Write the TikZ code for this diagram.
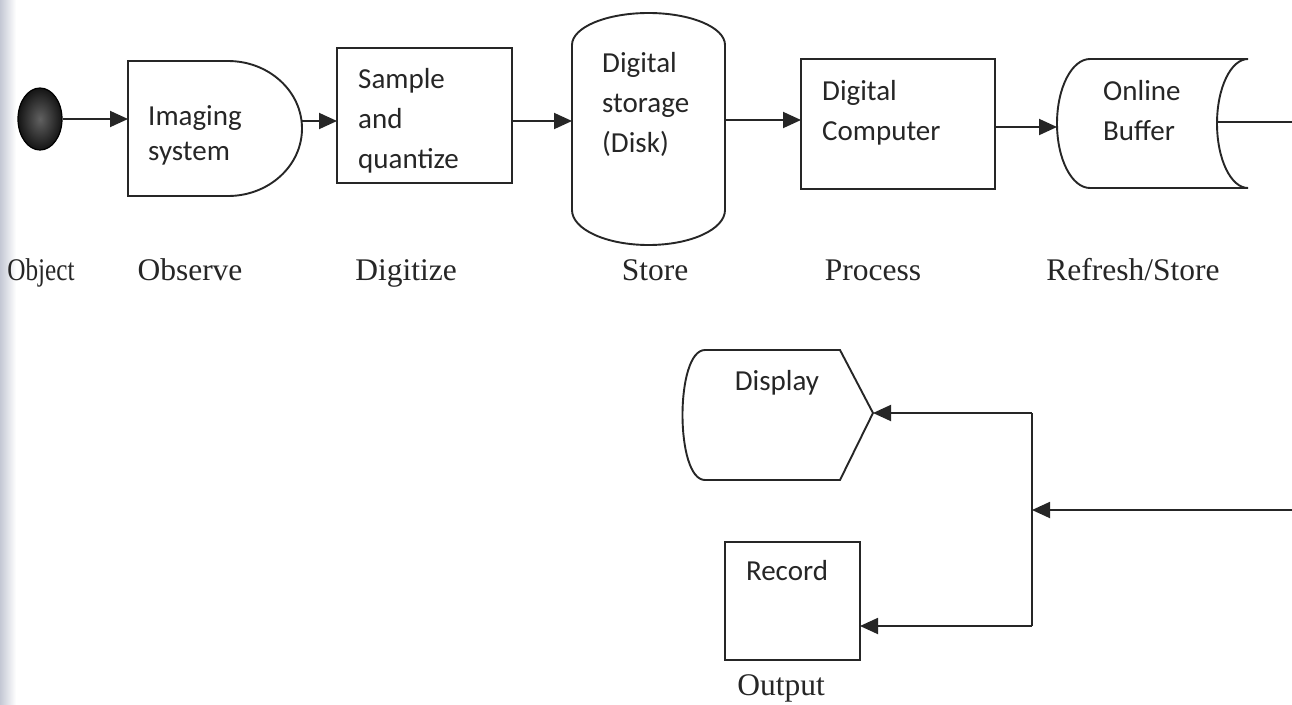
\documentclass[tikz,border=0pt]{standalone}
\usepackage{fontspec}
\setmainfont{Liberation Serif}
\newfontfamily\boxfont{Carlito}
\usetikzlibrary{arrows.meta,shapes.geometric}
\definecolor{ink}{HTML}{262626}
\definecolor{scan}{HTML}{C4C8D4}
\begin{document}
\begin{tikzpicture}[x=1pt,y=-1pt,
  line/.style={draw=ink, line width=1.9pt},
  arr/.style={line, -{Triangle[length=18pt,width=16pt]}},
  btxt/.style={font=\boxfont\fontsize{29}{29}\selectfont, text=ink, anchor=base west, inner sep=0pt},
  ctxt/.style={font=\boxfont\fontsize{29}{29}\selectfont, text=ink, anchor=base, inner sep=0pt},
  lbl/.style={font=\fontsize{31.5}{31.5}\selectfont, text=ink, anchor=base, inner sep=0pt},
  area/.style n args={2}{inner sep=0pt, outer sep=0pt, minimum width=#1, minimum height=#2},
  boxn/.style n args={2}{line, inner sep=0pt, outer sep=0pt, minimum width=#1, minimum height=#2}
]
\fill[white] (0,0) rectangle (1292,704);
\useasboundingbox (0,0) rectangle (1292,704);
\shade[left color=scan, right color=white] (0,0) rectangle (16,704);

% ---- object
\node[ellipse, draw=black, line width=1.2pt, inner sep=0pt, minimum width=44pt, minimum height=62pt,
      inner color=black!62, outer color=black!92] (obj) at (40,119) {};

% ---- imaging system
\node[area={174pt}{135pt}] (img) at (215,128.5) {};
\draw[line] (128,61) -- (228,61) arc[start angle=-90, end angle=90, x radius=74, y radius=67.5] -- (128,196) -- cycle;
\coordinate (imgtip) at (302,121);
\node[btxt] (img1) at (148,125) {Imaging};
\node[btxt] (img2) at (148,160) {system};

% ---- sample and quantize
\node[boxn={175pt}{135pt}] (smp) at (424.5,115.5) {};
\node[btxt] (smp1) at (358,88) {Sample};
\node[btxt] (smp2) at (358,128) {and};
\node[btxt] (smp3) at (358,168) {quantize};

% ---- digital storage
\node[area={153pt}{232pt}] (dsk) at (648.5,129) {};
\draw[line] (572,45) -- (572,210) arc[start angle=180, end angle=0, x radius=76.5, y radius=35]
  -- (725,45) arc[start angle=0, end angle=-180, x radius=76.5, y radius=32] -- cycle;
\node[btxt] (dsk1) at (602,72) {Digital};
\node[btxt] (dsk2) at (602,112) {storage};
\node[btxt] (dsk3) at (602,152) {(Disk)};

% ---- digital computer
\node[boxn={194pt}{130pt}] (cmp) at (898,124) {};
\node[btxt] (cmp1) at (822,100) {Digital};
\node[btxt] (cmp2) at (822,140) {Computer};

% ---- online buffer
\node[area={191pt}{129pt}] (buf) at (1152.5,123.5) {};
\draw[line] (1090,59) -- (1248,59) arc[start angle=-90, end angle=-270, x radius=31, y radius=64.5]
  -- (1090,188) arc[start angle=90, end angle=270, x radius=33, y radius=64.5] -- cycle;
\coordinate (bufin) at (1057,127);
\coordinate (bufout) at (1217,122);
\coordinate (edgeA) at (1292,122);
\node[btxt] (buf1) at (1103,100) {Online};
\node[btxt] (buf2) at (1103,140) {Buffer};

% ---- labels
\node[lbl, xscale=0.8] (l1) at (41,280) {Object};
\node[lbl] (l2) at (190,280) {Observe};
\node[lbl] (l3) at (406,280) {Digitize};
\node[lbl] (l4) at (655,280) {Store};
\node[lbl] (l5) at (873,280) {Process};
\node[lbl] (l6) at (1133,280) {Refresh/Store};

% ---- display
\node[area={193pt}{130pt}] (dsp) at (777,415) {};
\draw[line] (705,350) -- (840,350) -- (873,413) -- (840,480) -- (705,480)
  .. controls (675,480) and (675,350) .. (705,350) -- cycle;
\coordinate (dsptip) at (873,413);
\node[ctxt] (dsp1) at (777,390) {Display};

% ---- record
\node[boxn={135pt}{118pt}] (rec) at (792.5,601) {};
\node[ctxt] (rec1) at (787,580) {Record};
\node[lbl] (out) at (781,695) {Output};

% ---- connectors
\coordinate (row1) at (0,121);
\coordinate (junc) at (1032,510);
\coordinate (edgeB) at (1292,510);
\coordinate (recrow) at (0,626);
\draw[arr] (obj.east) -- (obj.east -| img.west);
\draw[arr] (imgtip) -- (imgtip -| smp.west);
\draw[arr] (smp.east |- row1) -- (dsk.west |- row1);
\draw[arr] (dsk.east |- 0,120) -- (cmp.west |- 0,120);
\draw[arr] (cmp.east |- bufin) -- (bufin);
\draw[line] (bufout) -- (edgeA);
\draw[arr] (edgeB) -- (junc);
\draw[arr] (junc |- dsptip) -- (dsptip);
\draw[line] (junc |- dsptip) -- (junc |- recrow);
\draw[arr] (junc |- recrow) -- (rec.east |- recrow);
\end{tikzpicture}
\end{document}
